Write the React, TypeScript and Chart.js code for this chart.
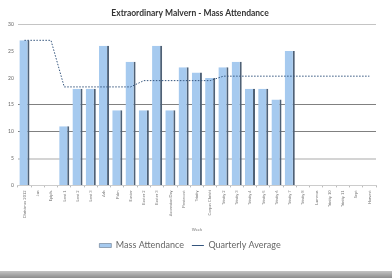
import React, { useEffect, useRef } from "react";
import { Chart, registerables } from "chart.js";

Chart.register(...registerables);

const TITLE = "Extraordinary Malvern - Mass Attendance";
const X_TITLE = "Week";
const categories = [
  "Christmas 2012", "Jan", "Epiph.", "Lent 1", "Lent 2", "Lent 3", "Ash", "Palm",
  "Easter", "Easter 2", "Easter 3", "Ascension Day", "Pentecost", "Trinity",
  "Corpus Christi", "Trinity 2", "Trinity 3", "Trinity 4", "Trinity 5", "Trinity 6",
  "Trinity 7", "Trinity 8", "Lammas", "Trinity 10", "Trinity 11", "Sept", "Harvest",
];
const massAttendance: (number | null)[] = [
  27, null, null, 11, 18, 18, 26, 14, 23, 14, 26, 14, 22, 21, 20, 22, 23, 18, 18, 16, 25,
  null, null, null, null, null, null,
];
const quarterlyAverage: number[] = [
  27, 27, 27, 18.33, 18.33, 18.33, 18.33, 18.33, 18.33, 19.5, 19.5, 19.5, 19.5, 19.5, 19.5,
  20.33, 20.33, 20.33, 20.33, 20.33, 20.33, 20.33, 20.33, 20.33, 20.33, 20.33, 20.33,
];
const yTicks = [0, 5, 10, 15, 20, 25, 30];

const FONT = "Lato, 'Open Sans', sans-serif";

export default function App() {
  const ref = useRef<HTMLCanvasElement | null>(null);
  useEffect(() => {
    if (!ref.current) return;
    const chart = new Chart(ref.current, {
      type: "bar",
      data: {
        labels: categories,
        datasets: [
          {
            type: "line",
            label: "Quarterly Average",
            data: quarterlyAverage,
            borderColor: "#34557d",
            backgroundColor: "#34557d",
            borderWidth: 1,
            borderDash: [1.5, 1.5],
            pointRadius: 0,
            pointStyle: "line",
            tension: 0,
            order: 0,
          } as any,
          {
            type: "bar",
            label: "Mass Attendance",
            data: massAttendance,
            backgroundColor: "#a6caef",
            borderColor: "#4f6176",
            borderWidth: { top: 0, right: 2, left: 0, bottom: 0 },
            borderSkipped: false,
            categoryPercentage: 1,
            barPercentage: 0.76,
            pointStyle: "rect",
            order: 1,
          } as any,
        ],
      },
      options: {
        responsive: false,
        animation: false,
        layout: { padding: { left: 4, right: 16, top: 0, bottom: 11 } },
        plugins: {
          title: {
            display: true,
            text: TITLE,
            color: "#333",
            font: { family: FONT, size: 8.5, weight: "bold" },
            padding: { top: 8, bottom: 6 },
          },
          legend: {
            position: "bottom",
            reverse: true,
            labels: {
              usePointStyle: true,
              pointStyleWidth: 12,
              boxHeight: 4,
              color: "#666",
              font: { family: FONT, size: 9 },
              padding: 8,
            },
          },
          tooltip: { enabled: false },
        },
        scales: {
          x: {
            grid: { display: true, drawOnChartArea: false, tickLength: 2, color: "#bbb" },
            border: { color: "#ccc" },
            ticks: {
              maxRotation: 90,
              minRotation: 90,
              autoSkip: false,
              color: "#777",
              font: { family: FONT, size: 4 },
              padding: 3,
            },
            title: {
              display: true,
              text: X_TITLE,
              color: "#777",
              font: { family: FONT, size: 4 },
              padding: { top: 6, bottom: 1 },
            },
          },
          y: {
            min: 0,
            max: 30,
            afterBuildTicks: (axis: any) => {
              axis.ticks = yTicks.map((v) => ({ value: v }));
            },
            grid: {
              drawTicks: false,
              color: (ctx: any) => {
                const v = ctx.tick && ctx.tick.value;
                if (v === 20 || v === 25 || v === 0) return "rgba(0,0,0,0)";
                if (v === 5) return "#d4d4d4";
                if (v === 30) return "#c4c4c4";
                return "#808080";
              },
              lineWidth: (ctx: any) => (ctx.tick && ctx.tick.value === 5 ? 2 : 1),
            },
            border: { display: false },
            ticks: {
              color: "#666",
              font: { family: FONT, size: 5 },
              padding: 4,
            },
          },
        },
      },
    });
    return () => chart.destroy();
  }, []);
  return (
    <div style={{ position: "absolute", left: 0, top: 0, width: 392, height: 278, background: "#fff" }}>
      <canvas ref={ref} width={392} height={271} style={{ display: "block" }} />
      <div
        style={{
          position: "absolute",
          left: 0,
          top: 271,
          width: 392,
          height: 7,
          background: "linear-gradient(to bottom, #c4c4c4, #8c8c8c)",
        }}
      />
    </div>
  );
}
